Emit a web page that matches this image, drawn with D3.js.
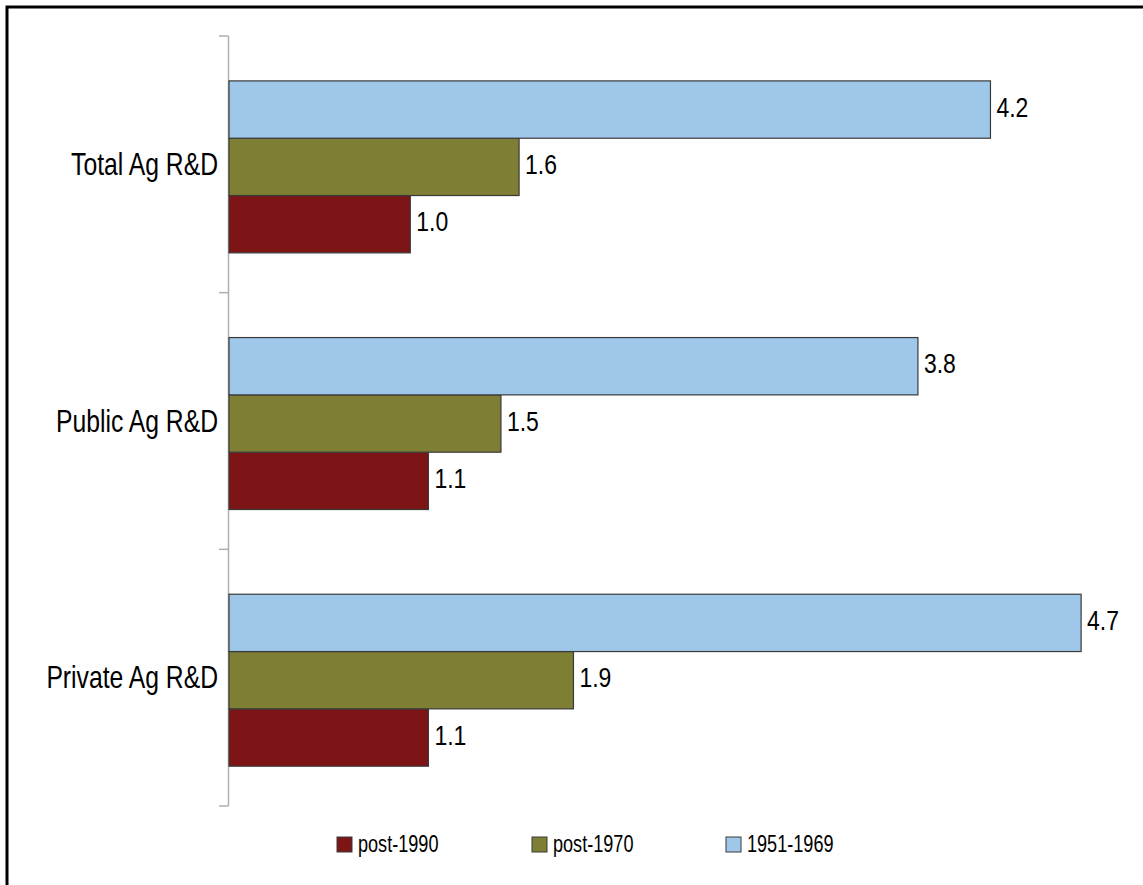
<!DOCTYPE html>
<html><head><meta charset="utf-8">
<script src="https://cdn.jsdelivr.net/npm/d3@7"></script>
<style>
html,body{margin:0;padding:0;background:#fff;}
text{font-family:"Liberation Sans",Arial,sans-serif;fill:#000;}
</style></head>
<body>
<svg id="c" width="1143" height="885"></svg>
<script>
const categories = ["Total Ag R&D", "Public Ag R&D", "Private Ag R&D"];
const seriesNames = ["post-1990", "post-1970", "1951-1969"];
const post1990 = [1.0, 1.1, 1.1];
const post1970 = [1.6, 1.5, 1.9];
const y1951_1969 = [4.2, 3.8, 4.7];
const seriesColors = ["#7D1517", "#7E7E34", "#9FC7EA"];

const seriesValues = [post1990, post1970, y1951_1969];
const svg = d3.select("#c");

// frame
svg.append("path").attr("d", "M7,885 L7,7 L1143,7").attr("fill", "none").attr("stroke", "#000").attr("stroke-width", 3);

const x = d3.scaleLinear().domain([0, 5]).range([229, 229 + 5 * 181.3]);
const y = d3.scaleBand().domain(categories).range([36, 806]).paddingInner(0.33).paddingOuter(0.165).align(0.53);
const sub = d3.scaleBand().domain([2, 1, 0]).range([0, y.bandwidth()]);

// axis line + ticks at band boundaries
const ax = svg.append("g");
ax.append("line").attr("x1", 228.5).attr("x2", 228.5).attr("y1", 36).attr("y2", 806).attr("stroke", "#b0b0b0").attr("stroke-width", 1.5);
const bounds = d3.range(categories.length + 1).map(i => 36 + i * (770 / categories.length));
ax.selectAll("line.t").data(bounds).join("line").attr("class", "t")
  .attr("x1", 219).attr("x2", 228.5).attr("y1", d => d).attr("y2", d => d)
  .attr("stroke", "#b0b0b0").attr("stroke-width", 1.5);

// bars
const rows = [];
categories.forEach((c, ci) => seriesValues.forEach((arr, si) => rows.push({c, si, v: arr[ci]})));
svg.append("g").selectAll("rect").data(rows).join("rect")
  .attr("x", x(0))
  .attr("y", d => y(d.c) + sub(d.si))
  .attr("width", d => x(d.v) - x(0))
  .attr("height", sub.bandwidth())
  .attr("fill", d => seriesColors[d.si])
  .attr("stroke", "#3a3a3a").attr("stroke-width", 1.2);

// value labels (condensed look)
svg.append("g").selectAll("text").data(rows).join("text")
  .attr("transform", d => `translate(${x(d.v) + 6},${y(d.c) + sub(d.si) + sub.bandwidth() / 2 - 3}) scale(0.82,1)`)
  .attr("dy", "0.36em")
  .attr("font-size", 28)
  .text(d => d.v.toFixed(1));

// category labels
svg.append("g").selectAll("text").data(categories).join("text")
  .attr("transform", d => `translate(218,${y(d) + y.bandwidth() / 2 - 3}) scale(0.81,1)`)
  .attr("dy", "0.36em")
  .attr("text-anchor", "end")
  .attr("font-size", 30.5)
  .text(d => d);

// legend
const legX = [337, 532, 726];
const lg = svg.append("g").selectAll("g").data(seriesNames).join("g")
  .attr("transform", (d, i) => `translate(${legX[i]},837)`);
lg.append("rect").attr("width", 15).attr("height", 15)
  .attr("fill", (d, i) => seriesColors[i]).attr("stroke", "#3a3a3a").attr("stroke-width", 1);
lg.append("text").attr("transform", "translate(21,7) scale(0.77,1)").attr("dy", "0.36em").attr("font-size", 23.5).text(d => d);
</script>
</body></html>
